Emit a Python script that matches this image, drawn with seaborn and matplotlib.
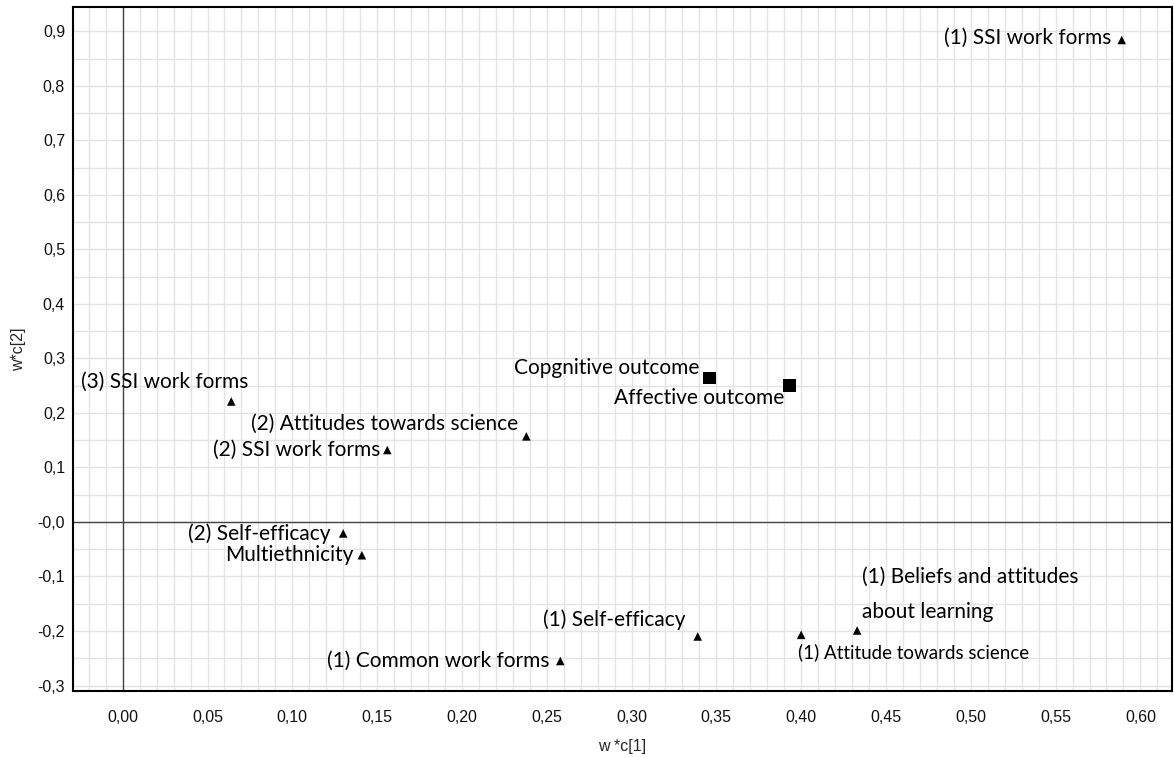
import matplotlib
matplotlib.use("Agg")
import matplotlib.pyplot as plt
from matplotlib.ticker import FixedLocator
import numpy as np
import seaborn as sns
import pandas as pd

# PLS loading plot, components 1 and 2
x_names = [
    "(1) SSI work forms",
    "(3) SSI work forms",
    "(2) Attitudes towards science",
    "(2) SSI work forms",
    "(2) Self-efficacy",
    "Multiethnicity",
    "(1) Self-efficacy",
    "(1) Common work forms",
    "(1) Attitude towards science",
    "(1) Beliefs and attitudes\nabout learning",
]
x_wc1 = [0.589, 0.064, 0.238, 0.156, 0.130, 0.141, 0.339, 0.258, 0.400, 0.433]
x_wc2 = [0.884, 0.221, 0.157, 0.132, -0.021, -0.061, -0.210, -0.255, -0.207, -0.199]

y_names = ["Copgnitive outcome", "Affective outcome"]
y_wc1 = [0.346, 0.393]
y_wc2 = [0.264, 0.250]

xtick_values = [0.00, 0.05, 0.10, 0.15, 0.20, 0.25, 0.30, 0.35, 0.40, 0.45, 0.50, 0.55, 0.60]
xtick_labels = ["0,00", "0,05", "0,10", "0,15", "0,20", "0,25", "0,30",
                "0,35", "0,40", "0,45", "0,50", "0,55", "0,60"]
ytick_values = [-0.3, -0.2, -0.1, 0.0, 0.1, 0.2, 0.3, 0.4, 0.5, 0.6, 0.7, 0.8, 0.9]
ytick_labels = ["-0,3", "-0,2", "-0,1", "-0,0", "0,1", "0,2", "0,3",
                "0,4", "0,5", "0,6", "0,7", "0,8", "0,9"]

x_df = pd.DataFrame({"name": x_names, "wc1": x_wc1, "wc2": x_wc2})
y_df = pd.DataFrame({"name": y_names, "wc1": y_wc1, "wc2": y_wc2})

sns.set_style("white")
plt.rcParams["font.family"] = ["Liberation Sans", "DejaVu Sans"]

fig = plt.figure(figsize=(11.74, 7.58), dpi=100)
ax = fig.add_axes([0.0619, 0.0884, 0.9362, 0.902])

ax.set_xlim(-0.0295, 0.6185)
ax.set_ylim(-0.310, 0.944)

# light grid: every 0.01 along x, every 0.05 along y
grid_kw = dict(color="#e4e4e4", linewidth=1.0, zorder=0)
for v in np.arange(-0.02, 0.615, 0.01):
    ax.axvline(v, **grid_kw)
for v in np.arange(-0.30, 0.94, 0.05):
    ax.axhline(v, **grid_kw)

# origin lines
ax.axhline(0, color="#444444", linewidth=1.0, zorder=1)
ax.axvline(0, color="#444444", linewidth=1.0, zorder=1)

sns.scatterplot(data=x_df, x="wc1", y="wc2", marker="^", s=38, color="black",
                edgecolor="none", ax=ax, zorder=3)
sns.scatterplot(data=y_df, x="wc1", y="wc2", marker="s", s=80, color="black",
                edgecolor="none", ax=ax, zorder=4)

label_font = ["Lato", "DejaVu Sans"]
placement = {
    "(1) SSI work forms": dict(dx=-10, dy=2, ha="right"),
    "(3) SSI work forms": dict(dx=-67, dy=20, ha="center"),
    "(2) Attitudes towards science": dict(dx=-8, dy=13, ha="right"),
    "(2) SSI work forms": dict(dx=-7, dy=0, ha="right"),
    "(2) Self-efficacy": dict(dx=-13, dy=0, ha="right"),
    "Multiethnicity": dict(dx=-8, dy=0, ha="right"),
    "(1) Self-efficacy": dict(dx=-12, dy=17, ha="right"),
    "(1) Common work forms": dict(dx=-11, dy=0, ha="right"),
    "(1) Attitude towards science": dict(dx=-3, dy=-17, ha="left", size=13.5),
    "(1) Beliefs and attitudes\nabout learning": dict(dx=5, dy=36, ha="left", ls=1.95),
    "Copgnitive outcome": dict(dx=-10, dy=10, ha="right"),
    "Affective outcome": dict(dx=-5, dy=-12, ha="right"),
}

for df in (x_df, y_df):
    for _, row in df.iterrows():
        p = placement[row["name"]]
        ax.annotate(row["name"], (row["wc1"], row["wc2"]),
                    xytext=(p["dx"], p["dy"]), textcoords="offset pixels",
                    ha=p["ha"], va="center", fontsize=p.get("size", 15),
                    family=label_font, linespacing=p.get("ls", 1.2),
                    color="black", zorder=5)

# ticks: x every 0.025 (labels every 0.05), y every 0.05 (labels every 0.1)
ax.set_xticks(xtick_values)
ax.set_xticklabels(xtick_labels)
ax.xaxis.set_minor_locator(FixedLocator([v + 0.025 for v in xtick_values[:-1]] + [-0.025]))
ax.set_yticks(ytick_values)
ax.set_yticklabels(ytick_labels)
ax.yaxis.set_minor_locator(FixedLocator([v + 0.05 for v in ytick_values[:-1]]))
ax.grid(False, which="both")

ax.tick_params(axis="both", which="both", direction="inout", length=7,
               width=1.0, color="black", labelsize=11.5, labelcolor="#111111")
ax.tick_params(axis="x", which="major", pad=10)
ax.tick_params(axis="y", which="major", pad=2)

for s in ax.spines.values():
    s.set_color("black")
    s.set_linewidth(1.5)

ax.set_xlabel("w *c[1]", fontsize=11.5, labelpad=10)
ax.set_ylabel("w*c[2]", fontsize=11.5, labelpad=8)

fig.savefig("out.png", dpi=100)
